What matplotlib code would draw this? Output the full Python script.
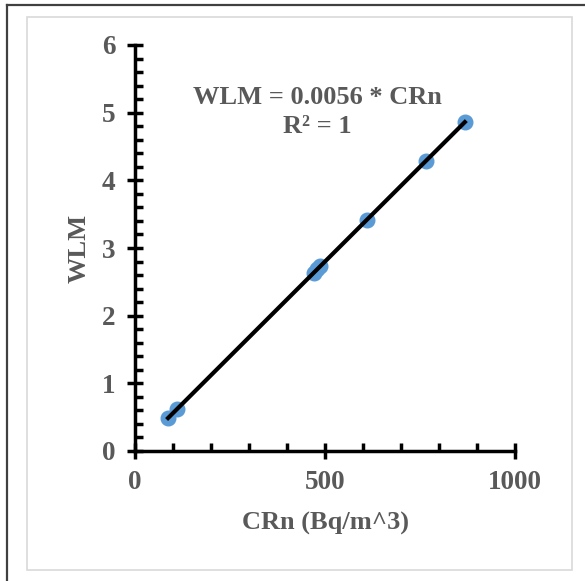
import matplotlib
matplotlib.use("Agg")
import matplotlib.pyplot as plt
from matplotlib.lines import Line2D
from matplotlib.patches import Rectangle
from matplotlib.ticker import MultipleLocator
import numpy as np

crn = [87, 110, 470, 480, 488, 610, 765, 868]
wlm = [0.49, 0.62, 2.63, 2.69, 2.73, 3.42, 4.28, 4.86]
slope = 0.0056
x_ticks = [0, 500, 1000]
y_ticks = [0, 1, 2, 3, 4, 5, 6]

plt.rcParams['font.family'] = ['Liberation Serif', 'DejaVu Serif']
W, H = 585, 581
fig = plt.figure(figsize=(W/100, H/100), dpi=100)
fig.patch.set_facecolor('white')

# outer border lines
fig.add_artist(Line2D([7/W, 7/W], [0, 1-5/H], transform=fig.transFigure, color='#404040', lw=1.6))
fig.add_artist(Line2D([7/W, 1], [1-5/H, 1-5/H], transform=fig.transFigure, color='#404040', lw=1.6))
# inner chart area box
fig.add_artist(Rectangle((27/W, 1-570/H), (572-27)/W, (570-17)/H, transform=fig.transFigure,
                         fill=False, edgecolor='#d9d9d9', lw=1.2))

ax = fig.add_axes([135/W, 1-451/H, 380/W, 406/H])
ax.set_xlim(0, 1000)
ax.set_ylim(0, 6)

ax.plot(crn, wlm, 'o', color='#5b9bd5', markersize=10.5, zorder=2, clip_on=False)
xs = np.array([min(crn), max(crn)])
ax.plot(xs, slope*xs, color='black', lw=3, zorder=3)

for s in ['top', 'right']:
    ax.spines[s].set_visible(False)
for s in ['left', 'bottom']:
    ax.spines[s].set_linewidth(2.5)
    ax.spines[s].set_color('black')

ax.set_xticks(x_ticks)
ax.set_yticks(y_ticks)
ax.xaxis.set_minor_locator(MultipleLocator(100))
ax.yaxis.set_minor_locator(MultipleLocator(0.2))
ax.tick_params(which='major', direction='inout', length=12, width=2.5, color='black',
               labelsize=19.5, labelcolor='#595959', pad=8)
ax.tick_params(which='minor', direction='in', length=6, width=2.5, color='black')
for lab in ax.get_xticklabels() + ax.get_yticklabels():
    lab.set_fontweight('bold')

ax.set_xlabel('CRn (Bq/m^3)', fontsize=19, fontweight='bold', color='#595959', labelpad=12)
ax.set_ylabel('WLM', fontsize=19, fontweight='bold', color='#595959', labelpad=8)

ax.text(479, 5.23, 'WLM = 0.0056 * CRn', ha='center', va='center', fontsize=19,
        fontweight='bold', color='#595959')
ax.text(479, 4.80, 'R² = 1', ha='center', va='center', fontsize=19,
        fontweight='bold', color='#595959')

fig.savefig('out.png', dpi=100, facecolor='white')
